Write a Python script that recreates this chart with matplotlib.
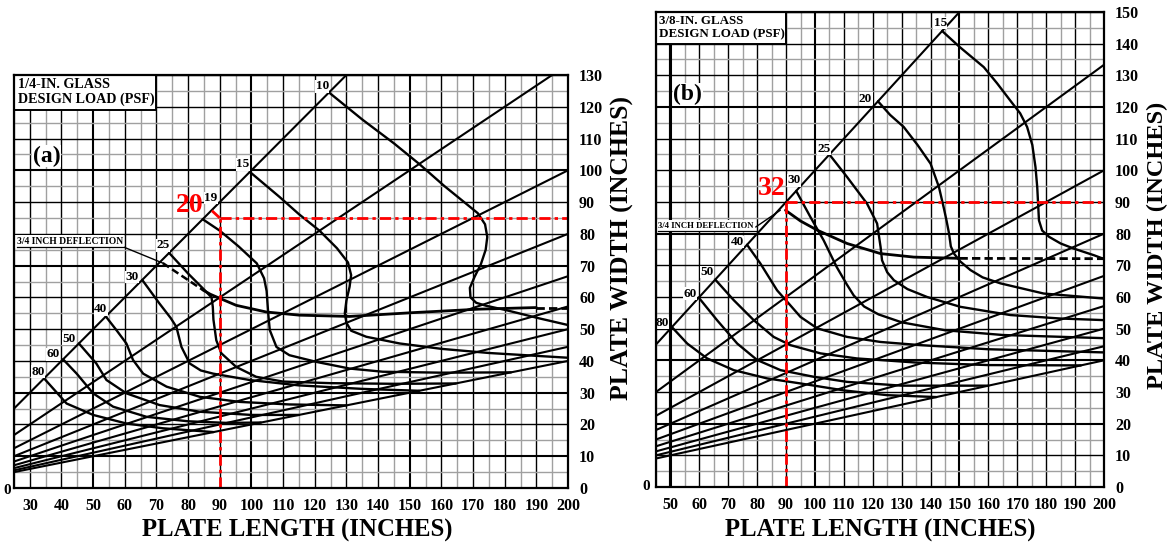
import matplotlib.pyplot as plt
import matplotlib.patches as mpatches
import numpy as np

# ── Aspect-ratio lines (plate length / plate width) ──────────────────────────
RATIOS = [1, 1.5, 2, 2.5, 3, 3.5, 4, 4.5, 5]

# ── (a) 1/4-in. glass: design-load contours, (length, width) in inches ───────
A_10 = [(124.5, 124.5), (135, 116), (145, 108.5), (153, 102), (161, 95),
        (167.8, 89.5), (171.5, 86.5), (173.8, 83), (174.5, 79), (174, 75),
        (172.5, 70.5), (170.5, 66.5), (169, 63), (169.2, 60), (171, 58.3),
        (174, 57.4), (180.4, 56), (190.9, 53.4), (200, 51.3)]
A_15 = [(99.5, 99.5), (108.9, 91.6), (115, 86.2), (121.5, 81), (127, 75.5),
        (130.5, 71), (131.5, 67), (131, 63.3), (130, 59), (129.5, 55),
        (130, 52), (131.5, 49.5), (136.3, 47.6), (146.8, 45.5), (160, 43.8),
        (175, 42.5), (200, 41)]
A_19 = [(84.6, 84.6), (90, 81), (96, 76), (101.7, 70.7), (104, 66),
        (104.8, 62), (105.3, 55), (105.8, 49.7), (107.9, 44.4), (112, 41.8),
        (120.5, 39.7), (131, 37.6), (141.5, 36.6), (160, 36.3), (182, 36.4)]
A_25 = [(74, 74), (80, 67.5), (85, 62.5), (87.4, 60), (87.8, 57), (88, 53),
        (88.9, 46.5), (90.5, 42.4), (95.2, 38.1), (101.5, 35), (110, 33.5),
        (125, 33), (145, 32.8), (164.6, 32.9)]
A_30 = [(65.5, 65.5), (71, 58), (74.5, 53.5), (76.3, 50.7), (77.9, 44.4),
        (80.5, 39.2), (84, 37), (87.9, 36), (99.4, 34), (115, 32.3),
        (135, 31.2), (153, 30.6)]
A_40 = [(54, 54), (57.5, 49.5), (60.5, 45.5), (62.6, 40.3), (65.8, 36),
        (73.2, 31.9), (83.7, 28.7), (96.3, 27.1), (112, 26.3), (130, 26)]
A_50 = [(45.5, 45.5), (51, 39.2), (54.2, 34), (60.5, 29.8), (71, 26.1),
        (83.7, 24), (100, 23), (115, 23)]
A_60 = [(40.5, 40.5), (44.8, 36), (50, 29.8), (56.3, 25.6), (66.9, 22.4),
        (80, 21), (92, 20.5), (103, 20.6)]
A_80 = [(34.5, 34.5), (41.6, 26.6), (50, 23), (60.5, 20.3), (72, 18.8),
        (88, 17.6)]
A_LOADS = ["10", "15", "19", "25", "30", "40", "50", "60", "80"]
A_CURVES = [A_10, A_15, A_19, A_25, A_30, A_40, A_50, A_60, A_80]

# 3/4 inch deflection limit: leader, dashed stretch, solid curve, dashed tail
A_DEFL_LEADER = [(59.5, 75.9), (72, 70.8)]
A_DEFL_DASH = [(72, 70.8), (84.7, 62.3)]
A_DEFL = [(84.7, 62.3), (87, 61), (90, 59.7), (95.2, 57.5), (104.7, 55.4),
          (115.2, 54.4), (131, 54), (151, 55.2), (172, 56.3), (190, 56.8)]
A_DEFL_TAIL = [(190, 56.8), (200, 56.8)]

# worked example: 90 x 85 in. plate -> 20 psf
A_EXAMPLE = (90, 85)
A_EXAMPLE_LOAD = "20"

# ── (b) 3/8-in. glass ────────────────────────────────────────────────────────
B_15 = [(144, 144), (150, 139), (158.4, 132.6), (163, 127.5), (167.6, 122),
        (171, 118), (173.4, 113.7), (175.2, 108), (176.3, 101), (176.9, 94.7),
        (177.5, 84.2), (178.6, 81), (181, 79), (185, 76.9), (189.5, 75.3),
        (196.5, 73.2), (200, 72)]
B_20 = [(121.8, 121.8), (126, 117.5), (130.7, 113.7), (135.5, 108),
        (140, 102.1), (142.9, 94.7), (144.6, 88), (145.5, 84.2), (146.4, 80),
        (147, 76), (148.1, 73.7), (150.3, 71.2), (153.8, 68.5), (158, 66.2),
        (164.2, 64.3), (179.1, 61.1), (200, 59.5)]
B_25 = [(105, 105), (111.1, 97.9), (118, 89.5), (121.5, 83.2), (122.7, 75.8),
        (123.2, 71.6), (125, 67.8), (127.3, 65.3), (132, 62.5), (138.8, 60),
        (150.3, 56.9), (167.6, 54.3), (185, 53.2), (200, 52.7)]
B_30 = [(93.5, 93.5), (98.4, 85.3), (103, 77.9), (107.5, 69.5), (111, 64),
        (113.4, 60.5), (117, 57), (122, 54.5), (130, 52), (145, 49.5),
        (165, 48), (200, 47)]
B_40 = [(76.5, 76.5), (81.1, 70.6), (86.9, 62.1), (90.4, 58.5), (95, 53.7),
        (100.8, 50.1), (111.1, 47.4), (122.7, 45.8), (136.5, 44.8),
        (160, 43.5), (200, 42.5)]
B_50 = [(65.5, 65.5), (71.9, 59), (78.8, 52.7), (85.7, 47.4), (91.5, 44.8),
        (101.9, 42.2), (114.5, 40.6), (135, 39.3), (160, 38.5), (192, 38.4)]
B_60 = [(59.8, 59.8), (66.1, 52.7), (73.1, 45.3), (80, 40.1), (88.1, 36.9),
        (99.6, 34.8), (111.1, 33.2), (130, 32), (160, 32)]
B_80 = [(50.5, 50.5), (55.8, 45.3), (62.7, 40.6), (71.9, 36.9), (83.4, 34.3),
        (95, 32.7), (110, 30.5), (125, 29), (142, 28.4)]
B_LOADS = ["15", "20", "25", "30", "40", "50", "60", "80"]
B_CURVES = [B_15, B_20, B_25, B_30, B_40, B_50, B_60, B_80]

B_DEFL_LEADER = [(79.5, 82.1), (88, 87.4)]
B_DEFL = [(89.8, 87.4), (95, 84), (100.8, 81.1), (111.1, 76.9), (122.7, 73.7),
          (134.2, 72.6), (150, 72.2)]
B_DEFL_TAIL = [(150, 72.2), (200, 72.1)]

B_EXAMPLE = (90, 90)
B_EXAMPLE_LOAD = "32"

# ── Layout ───────────────────────────────────────────────────────────────────
FONT = "Liberation Serif"
W, H = 1169, 548
RED_DASH = (0, (4, 1.5, 1.2, 1.5))

# where each contour label sits (text centre, data units)
A_LABEL_AT = {"10": (122.4, 126.4), "15": (97.3, 101.9), "19": (87.2, 91.3),
              "25": (72.0, 76.4), "30": (62.4, 66.4), "40": (52.4, 56.2),
              "50": (42.4, 47.0), "60": (37.4, 42.1), "80": (32.7, 36.6)}
B_LABEL_AT = {"15": (143.4, 146.5), "20": (117.5, 122.6), "25": (103.0, 106.8),
              "30": (92.7, 96.8), "40": (73.1, 77.4), "50": (62.7, 67.9),
              "60": (56.9, 61.1), "80": (47.1, 51.8)}


def px_box(left, top, right, bottom):
    """Axes rectangle from pixel edges."""
    return [left / W, 1 - bottom / H, (right - left) / W, (bottom - top) / H]


def draw_grid(ax, xlim, ylim, heavy_x=(), heavy_y=()):
    for x in np.arange(xlim[0], xlim[1] + 0.1, 5):
        major = x % 10 == 0
        lw = 1.5 if x in heavy_x else 1.0
        ax.axvline(x, color="black" if major else "#a0a0a0", lw=lw, zorder=1)
    for y in np.arange(ylim[0], ylim[1] + 0.1, 5):
        major = y % 10 == 0
        lw = 1.5 if y in heavy_y else 1.0
        ax.axhline(y, color="black" if major else "#a0a0a0", lw=lw, zorder=1)


def draw_ratio_lines(ax, xlim):
    xs = np.array(xlim, dtype=float)
    for r in RATIOS:
        ax.plot(xs, xs / r, color="black", lw=1.5, zorder=2)


def draw_curve(ax, pts, **kw):
    xs, ys = zip(*pts)
    ax.plot(xs, ys, color="black", solid_capstyle="round", **kw)


def style_axes(ax, xlim, ylim, xticks, yticks):
    ax.set_xlim(*xlim)
    ax.set_ylim(*ylim)
    ax.yaxis.tick_right()
    ax.set_xticks(xticks)
    ax.set_yticks(yticks)
    ax.tick_params(length=0, labelsize=11.5, pad=7)
    ax.tick_params(axis="y", pad=8)
    for lab in ax.get_xticklabels() + ax.get_yticklabels():
        lab.set_fontfamily(FONT)
        lab.set_fontweight("bold")
    for sp in ax.spines.values():
        sp.set_linewidth(1.6)
        sp.set_zorder(6)


def title_box(ax, x0, y0, x1, y1, lines, size):
    ax.add_patch(mpatches.Rectangle((x0, y0), x1 - x0, y1 - y0, fc="white",
                                    ec="black", lw=1.4, zorder=4))
    ax.text(x0 + 1.2, (y0 + y1) / 2, lines, ha="left", va="center",
            family=FONT, weight="bold", fontsize=size, linespacing=1.15,
            zorder=5)


def deflection_label(ax, x0, x1, y, size):
    ax.text(x0 + 0.8, y + 0.3, "3/4 INCH DEFLECTION", ha="left", va="bottom",
            family=FONT, weight="bold", fontsize=size, zorder=5,
            bbox=dict(fc="white", ec="none", pad=1.2))
    ax.plot([x0 + 0.8, x1], [y, y], color="black", lw=0.9, zorder=5)


def panel(ax, xlim, ylim, curves, loads, label_at, leader, defl, tail,
          example, example_load, red_label_at, heavy_x, heavy_y):
    draw_grid(ax, xlim, ylim, heavy_x, heavy_y)
    draw_ratio_lines(ax, xlim)
    for load, pts in zip(loads, curves):
        draw_curve(ax, pts, lw=1.7, zorder=3)
        lx, ly = label_at[load]
        ax.text(lx, ly, load, ha="center", va="center", family=FONT,
                weight="bold", fontsize=9.5, zorder=5,
                bbox=dict(fc="white", ec="none", pad=0.3))
    draw_curve(ax, leader, lw=1.0, zorder=3)
    draw_curve(ax, defl, lw=2.0, zorder=3)
    draw_curve(ax, tail, lw=2.0, ls=(0, (3, 1.5)), zorder=3)

    ex, ey = example
    ax.plot([ex, ex], [ylim[0], ey], color="red", lw=2.0, ls=RED_DASH, zorder=4)
    ax.plot([ex, xlim[1]], [ey, ey], color="red", lw=2.0, ls=RED_DASH, zorder=4)
    ax.text(*red_label_at, example_load, ha="center", va="center",
            family=FONT, weight="bold", fontsize=20, color="red", zorder=5)


fig = plt.figure(figsize=(W / 100, H / 100), dpi=100)

# ── (a) ──────────────────────────────────────────────────────────────────────
ax_a = fig.add_axes(px_box(14, 75, 568, 488))
xa, ya = (25, 200), (0, 130)
panel(ax_a, xa, ya, A_CURVES, A_LOADS, A_LABEL_AT, A_DEFL_LEADER, A_DEFL,
      A_DEFL_TAIL, A_EXAMPLE, A_EXAMPLE_LOAD, (80.6, 89.0),
      heavy_x=(50, 100, 150), heavy_y=(10, 30, 70, 100))
draw_curve(ax_a, A_DEFL_DASH, lw=1.8, ls=(0, (3, 1.5)), zorder=3)
ax_a.plot([87.5, A_EXAMPLE[0]], [87.3, A_EXAMPLE[1]], color="red", lw=2.0,
          ls=RED_DASH, zorder=4)
title_box(ax_a, 25, 119, 70, 130, "1/4-IN. GLASS\nDESIGN LOAD (PSF)", 10.2)
deflection_label(ax_a, 25, 59.5, 75.9, 6.9)
ax_a.text(31, 104.5, "(a)", ha="left", va="center", family=FONT,
          weight="bold", fontsize=17, zorder=5,
          bbox=dict(fc="white", ec="none", pad=0.5))
style_axes(ax_a, xa, ya, np.arange(30, 201, 10), np.arange(0, 131, 10))

# ── (b) ──────────────────────────────────────────────────────────────────────
ax_b = fig.add_axes(px_box(656, 12, 1104, 487))
xb, yb = (45, 200), (0, 150)
panel(ax_b, xb, yb, B_CURVES, B_LOADS, B_LABEL_AT, B_DEFL_LEADER, B_DEFL,
      B_DEFL_TAIL, B_EXAMPLE, B_EXAMPLE_LOAD, (85.2, 94.2),
      heavy_x=(50, 100, 150), heavy_y=(20, 40, 80, 120))
ax_b.axvline(50, color="black", lw=2.2, zorder=1)
title_box(ax_b, 45, 140, 90, 150, "3/8-IN. GLASS\nDESIGN LOAD (PSF)", 9.4)
deflection_label(ax_b, 45, 79.5, 81.0, 6.3)
ax_b.text(51, 124.0, "(b)", ha="left", va="center", family=FONT,
          weight="bold", fontsize=17, zorder=5,
          bbox=dict(fc="white", ec="none", pad=0.5))
style_axes(ax_b, xb, yb, np.arange(50, 201, 10), np.arange(0, 151, 10))

# ── Axis titles ──────────────────────────────────────────────────────────────
for cx in (297, 880):
    fig.text(cx / W, 1 - 530 / H, "PLATE LENGTH (INCHES)", ha="center",
             va="center", family=FONT, weight="bold", fontsize=17.8)
for cx, cy, size in ((622, 248, 18.5), (1157, 245, 17.5)):
    fig.text(cx / W, 1 - cy / H, "PLATE WIDTH (INCHES)", ha="center",
             va="center", rotation=90, family=FONT, weight="bold", fontsize=size)
for cx, cy in ((7, 490), (646, 487)):
    fig.text(cx / W, 1 - cy / H, "0", ha="center", va="center", family=FONT,
             weight="bold", fontsize=11)

fig.savefig("out.png", dpi=100, facecolor="white")
